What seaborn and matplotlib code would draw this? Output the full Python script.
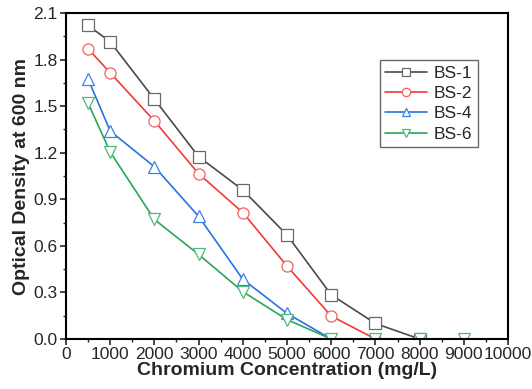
import matplotlib
matplotlib.use("Agg")
import matplotlib.pyplot as plt
import seaborn as sns
import pandas as pd
from matplotlib.ticker import MultipleLocator
from matplotlib.lines import Line2D

sns.set_style("ticks")
plt.rcParams['font.family'] = ['Liberation Sans', 'DejaVu Sans']

conc = [500, 1000, 2000, 3000, 4000, 5000, 6000, 7000, 8000, 9000]
bs1 = [2.02, 1.915, 1.545, 1.175, 0.96, 0.67, 0.285, 0.10, 0.0]
bs2 = [1.87, 1.715, 1.405, 1.065, 0.815, 0.47, 0.148, 0.0]
bs4 = [1.675, 1.34, 1.11, 0.79, 0.385, 0.165, 0.0, 0.0, 0.0, 0.0]
bs6 = [1.52, 1.205, 0.77, 0.545, 0.305, 0.125, 0.0, 0.0, 0.0, 0.0]
names = ["BS-1", "BS-2", "BS-4", "BS-6"]
series = [bs1, bs2, bs4, bs6]

line_colors = ["#4a4a4a", "#f03a3a", "#2a72e0", "#2aa55a"]
edge_colors = ["#6a6a6a", "#f26060", "#3a80e8", "#4cba78"]
markers = ["s", "o", "^", "v"]

fig = plt.figure(figsize=(5.32, 3.89), dpi=100)
ax = fig.add_axes([0.124, 0.1285, 0.831, 0.838])

for name, vals, lc, ec, mk in zip(names, series, line_colors, edge_colors, markers):
    df = pd.DataFrame({"x": conc[:len(vals)], "y": vals})
    sns.lineplot(data=df, x="x", y="y", ax=ax, color=lc, linewidth=1.2,
                 marker=mk, markersize=8, markerfacecolor="white",
                 markeredgecolor=ec, markeredgewidth=0.9)

for ln in ax.lines:
    ln.set_clip_on(True)
    ln.set_clip_path(ax.patch)

ax.set_xlim(0, 10000)
ax.set_ylim(0, 2.1)
ax.xaxis.set_major_locator(MultipleLocator(1000))
ax.xaxis.set_minor_locator(MultipleLocator(500))
ax.yaxis.set_minor_locator(MultipleLocator(0.15))
ax.set_yticks([0, 0.3, 0.6, 0.9, 1.2, 1.5, 1.8, 2.1])
ax.set_yticklabels(["0.0", "0.3", "0.6", "0.9", "1.2", "1.5", "1.8", "2.1"])
ax.tick_params(axis="both", which="major", direction="out", length=4, width=1.2,
               labelsize=12.5, top=False, right=False, pad=2)
ax.tick_params(axis="both", which="minor", direction="out", length=2.5, width=1.0,
               top=False, right=False)
for sp in ax.spines.values():
    sp.set_linewidth(1.5)
    sp.set_color("black")
    sp.set_zorder(5)

ax.set_xlabel("Chromium Concentration (mg/L)", fontsize=14, fontweight="bold", labelpad=0)
ax.set_ylabel("Optical Density at 600 nm", fontsize=14, fontweight="bold", labelpad=2)

handles = [Line2D([], [], color=lc, linewidth=1.2, marker=mk, markersize=6,
                  markerfacecolor="white", markeredgecolor=ec, markeredgewidth=0.9)
           for lc, ec, mk in zip(line_colors, edge_colors, markers)]
leg = ax.legend(handles, names, loc="upper left", bbox_to_anchor=(0.71, 0.855),
                fontsize=12.5, frameon=True, fancybox=False, edgecolor="#444444",
                handlelength=2.4, handletextpad=0.4, borderpad=0.3,
                labelspacing=0.3, borderaxespad=0)
leg.get_frame().set_linewidth(1.0)

fig.savefig("out.png", dpi=100)
